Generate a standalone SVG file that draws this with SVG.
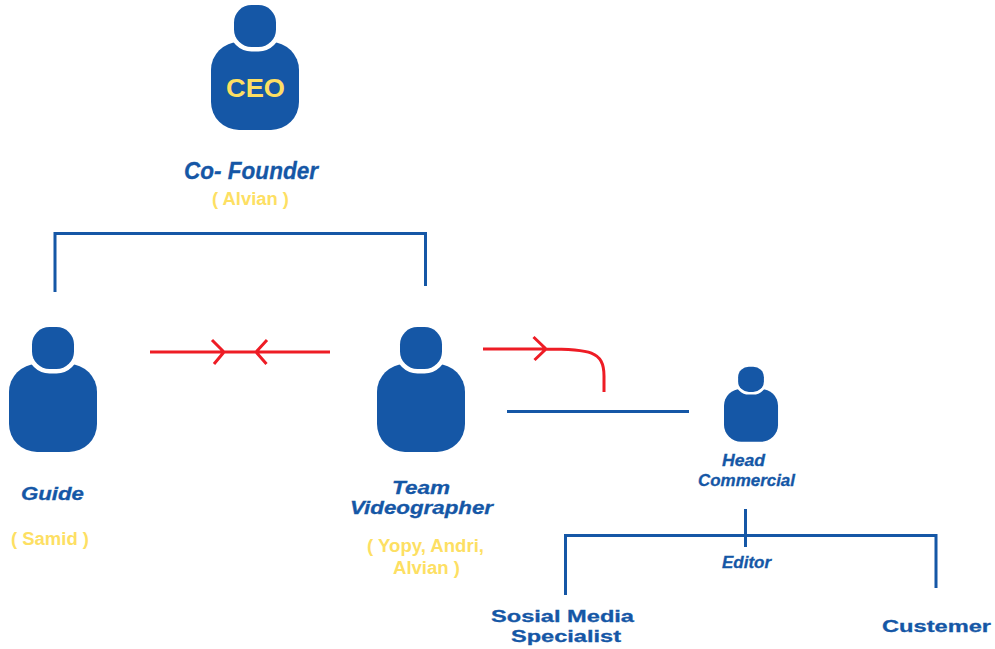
<svg xmlns="http://www.w3.org/2000/svg" xmlns:xlink="http://www.w3.org/1999/xlink" width="995" height="649" viewBox="0 0 995 649">
<style>
text{font-family:"Liberation Sans",Arial,sans-serif;font-weight:bold}
.b{fill:#1557a6;stroke:#1557a6;stroke-width:.3}
.i{font-style:italic}
.y{fill:#fddf63}
.bl{fill:none;stroke:#1557a6;stroke-width:3}
.rd{fill:none;stroke:#ee1c25;stroke-width:3}
</style>
<defs>
<g id="person">
<rect x="0" y="37" width="88" height="88" rx="28" fill="#1557a6"/>
<rect x="23" y="0" width="42" height="42" rx="17.500" fill="#1557a6" stroke="#fff" stroke-width="9" paint-order="stroke"/>
</g>
</defs>
<rect width="995" height="649" fill="#fff"/>
<g id="connectors">
<path class="bl" d="M55 292V233.500H425.500V286"/>
<path class="bl" d="M507 411.500H689"/>
<path class="bl" d="M565.500 595V535.500H936V588"/>
<path class="bl" d="M745.500 509V547"/>
<path class="rd" d="M150 352H330M212 340L224 352L214 364M267 340L256 352L266.500 364"/>
<path class="rd" d="M483 349H545C590 349 604 351 604 376V392M533.500 337L546 349L534.500 360"/>
</g>
<g id="ceo">
<use href="#person" x="211" y="5"/>
<text x="226" y="97" font-size="26" fill="#fddf63" textLength="59" lengthAdjust="spacingAndGlyphs">CEO</text>
<text class="b i" x="184" y="179" font-size="24" textLength="134" lengthAdjust="spacingAndGlyphs">Co- Founder</text>
<text class="y" x="212" y="205" font-size="18" textLength="77" lengthAdjust="spacingAndGlyphs">( Alvian )</text>
</g>
<g id="guide">
<use href="#person" x="9" y="327"/>
<text class="b i" x="21" y="500" font-size="18" textLength="63" lengthAdjust="spacingAndGlyphs">Guide</text>
<text class="y" x="11" y="545" font-size="18" textLength="78" lengthAdjust="spacingAndGlyphs">( Samid )</text>
</g>
<g id="team">
<use href="#person" x="377" y="327"/>
<text class="b i" x="392" y="494" font-size="18" textLength="58" lengthAdjust="spacingAndGlyphs">Team</text>
<text class="b i" x="350" y="514" font-size="18" textLength="143" lengthAdjust="spacingAndGlyphs">Videographer</text>
<text class="y" x="367" y="552" font-size="18" textLength="117" lengthAdjust="spacingAndGlyphs">( Yopy, Andri,</text>
<text class="y" x="393" y="574" font-size="18" textLength="67" lengthAdjust="spacingAndGlyphs">Alvian )</text>
</g>
<g id="head-commercial">
<use href="#person" transform="translate(724 366.700) scale(.614 .6)"/>
<text class="b i" x="722" y="466" font-size="17" textLength="43" lengthAdjust="spacingAndGlyphs">Head</text>
<text class="b i" x="698" y="486" font-size="17" textLength="97" lengthAdjust="spacingAndGlyphs">Commercial</text>
</g>
<g id="editor">
<text class="b i" x="722" y="568" font-size="17" textLength="49" lengthAdjust="spacingAndGlyphs">Editor</text>
</g>
<g id="sosial-media">
<text class="b" x="491" y="622" font-size="17" textLength="143" lengthAdjust="spacingAndGlyphs">Sosial Media</text>
<text class="b" x="511" y="642" font-size="17" textLength="110" lengthAdjust="spacingAndGlyphs">Specialist</text>
</g>
<g id="custemer">
<text class="b" x="882" y="632" font-size="17" textLength="109" lengthAdjust="spacingAndGlyphs">Custemer</text>
</g>
</svg>
